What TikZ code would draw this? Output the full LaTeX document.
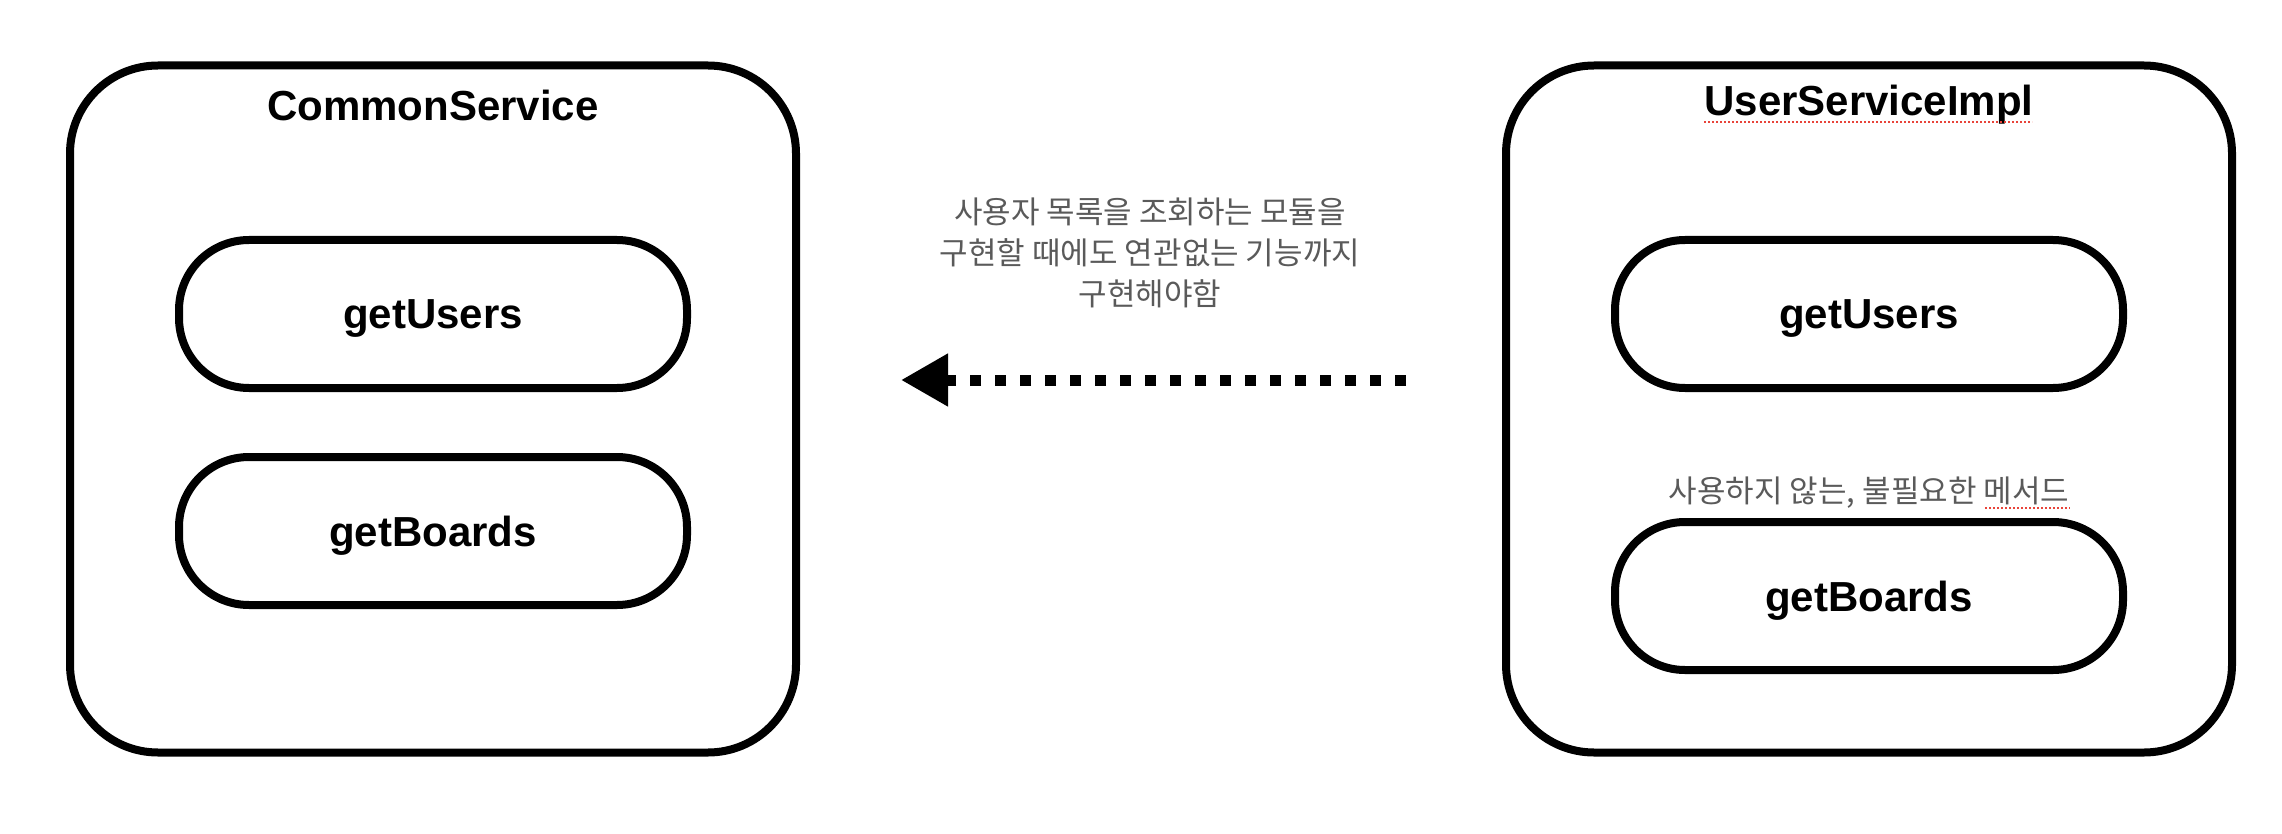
\documentclass[tikz,border=0pt]{standalone}
\usepackage{fontspec}
\setmainfont{Liberation Sans}
\newfontfamily\krfont{Noto Sans CJK KR}
\usetikzlibrary{arrows.meta}
\definecolor{notegray}{HTML}{5A5A5A}
\definecolor{spellred}{HTML}{E8443A}
\begin{document}
\begin{tikzpicture}[x=1pt,y=-1pt,
  outerbox/.style={draw=black,line width=8pt,rounded corners=88pt,minimum width=726pt,minimum height=687pt,inner sep=0pt},
  pill/.style={draw=black,line width=8pt,rounded corners=70pt,minimum width=508pt,minimum height=148pt,inner sep=0pt,
    text depth=0pt,font=\fontsize{42}{48}\selectfont\bfseries},
  boxtitle/.style={font=\fontsize{42}{48}\selectfont\bfseries,inner sep=0pt},
  note/.style={font=\krfont\fontsize{31}{41}\selectfont,text=notegray,align=center,inner sep=0pt},
  spell/.style={draw=spellred,line width=2pt,dash pattern=on 2pt off 2pt}
]
\useasboundingbox (0,0) rectangle (2282,834);
% left box
\node[outerbox] (cs) at (433,409) {};
\node[boxtitle] (cstitle) at (433,105) {CommonService};
\node[pill] (csu) at (433,314) {getUsers};
\node[pill] (csb) at (433,531) {getBoards};
% right box
\node[outerbox] (us) at (1869,409) {};
\node[boxtitle] (ustitle) at (1869,105) {UserServiceImpl};
\node[pill] (usu) at (1869,314) {getUsers};
\node[note] (unused) at (1869,493) {사용하지 않는, 불필요한 메서드};
\node[pill] (usb) at (1869,596) {getBoards};
% spell-check marks
\coordinate (sp1a) at (1704,122);
\coordinate (sp1b) at (2032,122);
\draw[spell] (sp1a) -- (sp1b);
\coordinate (sp2a) at (1985,508);
\coordinate (sp2b) at (2070,508);
\draw[spell] (sp2a) -- (sp2b);
% note and arrow
\node[note] (why) at (1150,253) {사용자 목록을 조회하는 모듈을\\구현할 때에도 연관없는 기능까지\\구현해야함};
\coordinate (arrS) at (1406,380);
\coordinate (arrE) at (901,380);
\draw[line width=11pt,dash pattern=on 11pt off 14pt,-{Triangle[length=47pt,width=50pt]}] (arrS) -- (arrE);
\end{tikzpicture}
\end{document}
